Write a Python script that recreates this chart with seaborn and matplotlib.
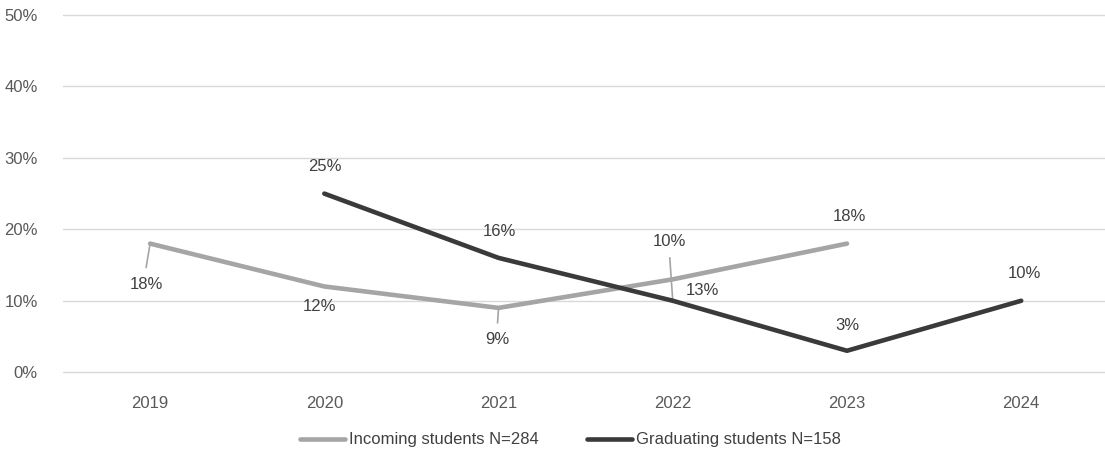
import matplotlib
matplotlib.use("Agg")
import matplotlib.pyplot as plt
from matplotlib import font_manager
from matplotlib.ticker import PercentFormatter
import seaborn as sns
import pandas as pd
import numpy as np

years = [2019, 2020, 2021, 2022, 2023, 2024]
incoming = [18, 12, 9, 13, 18, None]
graduating = [None, 25, 16, 10, 3, 10]
series_names = ["Incoming students N=284", "Graduating students N=158"]
colors = ["#A5A5A5", "#3A3A3A"]

rows = []
for name, vals in zip(series_names, [incoming, graduating]):
    for y, v in zip(years, vals):
        if v is not None:
            rows.append({"Year": y, "Value": v, "Series": name})
df = pd.DataFrame(rows)

sns.set_theme(style="white")
names = {f.name for f in font_manager.fontManager.ttflist}
main_font = "Liberation Sans" if "Liberation Sans" in names else "DejaVu Sans"
narrow_font = "Liberation Sans Narrow" if "Liberation Sans Narrow" in names else main_font
plt.rcParams["font.family"] = [main_font, "DejaVu Sans"]

fig = plt.figure(figsize=(11.05, 4.55), dpi=100)
ax = fig.add_axes([0.057, 0.182, 0.946, 0.785])

sns.lineplot(data=df, x="Year", y="Value", hue="Series", hue_order=series_names,
             palette=colors, linewidth=3.3, ax=ax, legend=False, zorder=3)

ax.set_xlim(2018.5, 2024.5)
ax.set_ylim(0, 50)
ax.set_yticks([0, 10, 20, 30, 40, 50])
ax.yaxis.set_major_formatter(PercentFormatter(decimals=0))
ax.set_xticks(years)
ax.set_xticklabels([str(y) for y in years])
ax.grid(axis="y", color="#D9D9D9", linewidth=1.0)
ax.grid(axis="x", visible=False)
for gl in ax.get_ygridlines():
    gl.set_clip_on(False)
for s in ax.spines.values():
    s.set_visible(False)
ax.tick_params(axis="both", length=0, labelsize=12, colors="#595959")
ax.tick_params(axis="x", pad=17)
ax.tick_params(axis="y", pad=18)
ax.set_xlabel("")
ax.set_ylabel("")

# data labels: (dx, dy) in pixels, leader end dy or None
inc_off = [(-4, -41, -24), (-5, -20, None), (-1, -32, -15), (30, -11, None), (2, 27, None), None]
grad_off = [None, (1, 27, None), (1, 26, None), (-3, 59, 43), (0, 25, None), (3, 27, None)]
for vals, offs in [(incoming, inc_off), (graduating, grad_off)]:
    for y, v, off in zip(years, vals, offs):
        if v is None or off is None:
            continue
        dx, dy, lead = off
        ax.annotate(f"{v}%", (y, v), xytext=(dx, dy), textcoords="offset pixels",
                    ha="center", va="center", fontsize=12, color="#404040", zorder=5)
        if lead is not None:
            ax.annotate("", (y, v), xytext=(dx if abs(dx) < 10 else 0, lead),
                        textcoords="offset pixels",
                        arrowprops=dict(arrowstyle="-", color="#A5A5A5", lw=1.2,
                                        shrinkA=0, shrinkB=0), zorder=2)

handles = [plt.Line2D([0], [0], color=c, linewidth=3.3) for c in colors]
fig.legend(handles, series_names, loc="center", bbox_to_anchor=(0.516, 0.033),
           ncol=2, frameon=False, handlelength=2.7, handletextpad=0.25,
           columnspacing=2.9, prop={"family": [narrow_font, "DejaVu Sans"], "size": 12},
           labelcolor="#404040")

fig.savefig("out.png", dpi=100)
